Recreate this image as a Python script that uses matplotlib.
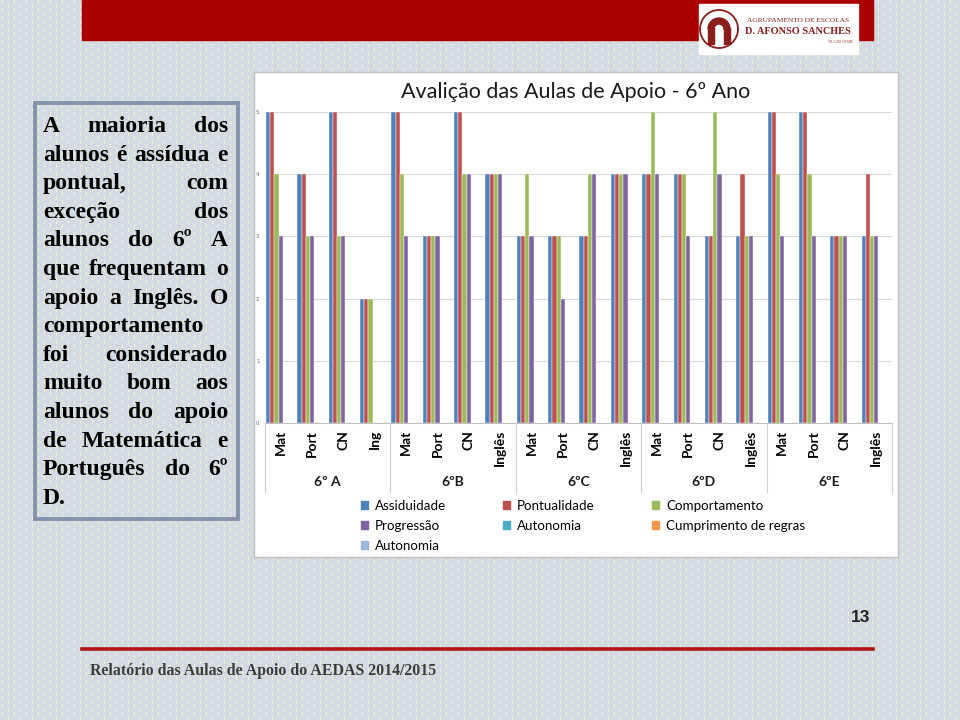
import numpy as np
import matplotlib
matplotlib.use("Agg")
import matplotlib.pyplot as plt
import matplotlib.transforms as mtrans
from matplotlib.patches import Rectangle, Patch, Circle, Wedge

# chart data
subjects = ["Mat", "Port", "CN", "Ing",
            "Mat", "Port", "CN", "Inglês",
            "Mat", "Port", "CN", "Inglês",
            "Mat", "Port", "CN", "Inglês",
            "Mat", "Port", "CN", "Inglês"]
classes = ["6º A", "6ºB", "6ºC", "6ºD", "6ºE"]
assiduidade = [5, 4, 5, 2, 5, 3, 5, 4, 3, 3, 3, 4, 4, 4, 3, 3, 5, 5, 3, 3]
pontualidade = [5, 4, 5, 2, 5, 3, 5, 4, 3, 3, 3, 4, 4, 4, 3, 4, 5, 5, 3, 4]
comportamento = [4, 3, 3, 2, 4, 3, 4, 4, 4, 3, 4, 4, 5, 4, 5, 3, 4, 4, 3, 3]
progressao = [3, 3, 3, 0, 3, 3, 4, 4, 3, 2, 4, 4, 4, 3, 4, 3, 3, 3, 3, 3]

series_names = ["Assiduidade", "Pontualidade", "Comportamento", "Progressão",
                "Autonomia", "Cumprimento de regras", "Autonomia"]
series_colors = ["#4f81bd", "#c0504d", "#9bbb59", "#8064a2",
                 "#4bacc6", "#f79646", "#9db5dc"]
series_values = [assiduidade, pontualidade, comportamento, progressao]

summary = ["A maioria dos",
           "alunos é assídua e",
           "pontual, com",
           "exceção dos",
           "alunos do 6º A",
           "que frequentam o",
           "apoio a Inglês. O",
           "comportamento",
           "foi considerado",
           "muito bom aos",
           "alunos do apoio",
           "de Matemática e",
           "Português do 6º",
           "D."]

fig = plt.figure(figsize=(9.6, 7.2), dpi=100)

# slide background, in pixel units
bg = fig.add_axes([0, 0, 1, 1], zorder=0)
bg.set_xlim(0, 960)
bg.set_ylim(720, 0)
bg.axis("off")

H, W = 720, 960
yy, xx = np.mgrid[0:H, 0:W]
tex = np.empty((H, W, 3))
tex[:] = (0.835, 0.855, 0.885)
dash = (xx % 6 == 2) & ((yy + (xx // 6 % 2) * 4) % 8 < 4)
tex[dash] = (0.93, 0.93, 0.84)
bg.imshow(tex, extent=(0, W, H, 0), interpolation="nearest", aspect="auto", zorder=0)

# red header band + logo
bg.add_patch(Rectangle((82, 0), 791, 40, color="#aa0000", zorder=1))
bg.add_patch(Rectangle((699, 4), 159, 50, color="white", zorder=2))
bg.add_patch(Circle((719, 29), 19, fill=False, ec="#8b1d1d", lw=1.3, zorder=3))
bg.add_patch(Wedge((719, 29), 11, 180, 360, width=6, color="#8b1d1d", zorder=3))
bg.add_patch(Rectangle((708, 28), 6, 16, color="#8b1d1d", zorder=3))
bg.add_patch(Rectangle((724, 28), 6, 16, color="#8b1d1d", zorder=3))
bg.text(798, 20, "AGRUPAMENTO DE ESCOLAS", ha="center", va="center",
        fontsize=5.3, family="Liberation Serif", color="#8b1d1d", zorder=3)
bg.text(798, 32, "D. AFONSO SANCHES", ha="center", va="center",
        fontsize=7.4, family="Liberation Serif", weight="bold", color="#8b1d1d", zorder=3)
bg.text(840, 42, "VILA DO CONDE", ha="center", va="center",
        fontsize=2.3, family="Liberation Serif", color="#8b1d1d", zorder=3)

# chart panel
bg.add_patch(Rectangle((254, 72), 644, 485, fc="white", ec="#bfbfbf", lw=1, zorder=1))
bg.text(576, 92, "Avalição das Aulas de Apoio - 6º Ano", ha="center", va="center",
        fontsize=15.5, family="Lato", color="#1a1a1a", zorder=3)

# text box on the left, justified
bg.add_patch(Rectangle((35, 103), 203, 416, fill=False, ec="#8593aa", lw=2.8, zorder=2))
renderer = fig.canvas.get_renderer()
x0, x1, y0, dy = 43, 228, 132, 28.6
for i, line in enumerate(summary):
    y = y0 + i * dy
    words = line.split()
    if i == len(summary) - 1 or len(words) == 1:
        bg.text(x0, y, line, ha="left", va="baseline", fontsize=17,
                family="Liberation Serif", weight="bold", color="black", zorder=3)
        continue
    ts = [bg.text(0, y, w, ha="left", va="baseline", fontsize=17,
                  family="Liberation Serif", weight="bold", color="black", zorder=3)
          for w in words]
    widths = [t.get_window_extent(renderer).width for t in ts]
    gap = (x1 - x0 - sum(widths)) / (len(words) - 1)
    x = x0
    for t, w in zip(ts, widths):
        t.set_x(x)
        x += w + gap

# footer
bg.text(861, 617, "13", ha="center", va="center", fontsize=12.5,
        family="Liberation Sans", weight="bold", color="#222222", zorder=3)
bg.plot([82, 873], [649, 649], color="#b01515", lw=2.6, zorder=3)
bg.text(90, 671, "Relatório das Aulas de Apoio do AEDAS 2014/2015", ha="left", va="center",
        fontsize=11.4, family="Liberation Serif", weight="bold", color="#3c3c3c", zorder=3)

# bar chart
ax = fig.add_axes([265 / 960, 1 - 423 / 720, 627 / 960, 311 / 720], zorder=2)
ax.set_facecolor("none")
n = len(subjects)
x = np.arange(n)
nser = len(series_names)
w = 1 / (nser + 0.46)
start = -0.5 + (1 - nser * w) / 2
for k, vals in enumerate(series_values):
    ax.bar(x + start + (k + 0.5) * w, vals, width=w, color=series_colors[k],
           edgecolor="white", linewidth=0.3, zorder=3)

ax.set_xlim(-0.5, n - 0.5)
ax.set_ylim(0, 5)
ax.set_yticks(range(6))
ax.tick_params(axis="y", length=0, labelsize=4, labelcolor="#666666", pad=4)
ax.yaxis.grid(True, color="#d9d9d9", lw=0.8, zorder=0)
ax.set_xticks(x)
ax.set_xticklabels(subjects, rotation=90, fontsize=10, family="Lato", weight="bold")
ax.tick_params(axis="x", length=0, pad=5)
for s in ["top", "right", "left"]:
    ax.spines[s].set_visible(False)
ax.spines["bottom"].set_color("#bfbfbf")

trans = mtrans.blended_transform_factory(ax.transData, ax.transAxes)
for g, name in enumerate(classes):
    ax.text(g * 4 + 1.5, -0.19, name, transform=trans, ha="center", va="center",
            fontsize=10, family="Lato", weight="bold", color="#1a1a1a")
for b in range(len(classes) + 1):
    ax.plot([b * 4 - 0.5] * 2, [0, -0.222], transform=trans, color="#d0d0d0",
            lw=0.8, clip_on=False)

handles = [Patch(color=c, label=l) for c, l in zip(series_colors, series_names)]
order = [0, 3, 6, 1, 4, 2, 5]
fig.legend([handles[i] for i in order], [series_names[i] for i in order],
           loc="upper left", bbox_to_anchor=(354 / 960, 1 - 493 / 720), ncol=3,
           frameon=False, prop={"family": "Lato", "size": 9.6},
           handlelength=0.55, handleheight=0.55, handletextpad=0.5,
           columnspacing=4.3, labelspacing=0.6, borderpad=0)

fig.savefig("out.png", dpi=100)
